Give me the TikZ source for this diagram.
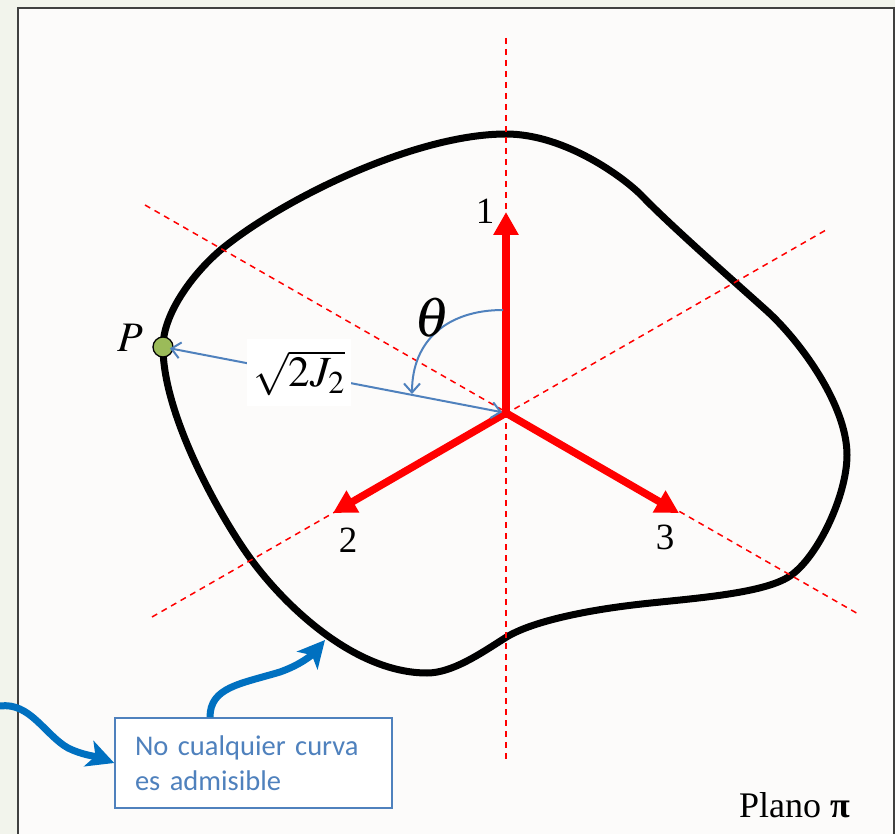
\documentclass[tikz,border=0pt]{standalone}
\usepackage{mathptmx}
\usepackage{fontspec}
\setmainfont{Liberation Serif}
\newfontfamily\boxfont{Carlito}
\usetikzlibrary{arrows.meta}
\definecolor{outerbg}{HTML}{F2F4EC}
\definecolor{innerbg}{HTML}{FCFBFA}
\definecolor{framec}{HTML}{404040}
\definecolor{thinblue}{HTML}{4F81BD}
\definecolor{thickblue}{HTML}{0070C0}
\definecolor{pgreen}{HTML}{9BBB59}
\begin{document}
\begin{tikzpicture}[x=1pt,y=-1pt,
  axisdash/.style={red, line width=1.5pt, dash pattern=on 6pt off 5pt},
  axisarrow/.style={red, line width=7.5pt, -{Triangle[length=23pt,width=24pt]}},
  thinarrow/.style={thinblue, line width=2pt},
  barb/.tip={Straight Barb[length=9pt,width=16pt,line width=2pt]},
  thickarrow/.style={thickblue, line width=7pt, -{Stealth[length=27pt,width=27pt,inset=7pt]}},
  lbl/.style={font=\fontsize{37}{40}\selectfont, inner sep=0pt},
]
\fill[outerbg] (0,0) rectangle (895,834);
\useasboundingbox (0,0) rectangle (895,834);
\draw[framec, fill=innerbg, line width=1.5pt] (18,8) rectangle (894,850);

% closed curve
\draw[black, line width=7pt, line join=round]
  (506,134) .. controls (566,134) and (626,179) .. (643,197)
  .. controls (671,226) and (737,284) .. (767,311)
  .. controls (800,341) and (847,405) .. (847,455)
  .. controls (847,495) and (818,557) .. (790,576)
  .. controls (762,595) and (682,599) .. (633,605)
  .. controls (583,611) and (530,622) .. (505,638)
  .. controls (480,654) and (452,673) .. (427,673)
  .. controls (357,673) and (289,610) .. (253,562)
  .. controls (223,522) and (163,417) .. (163,347)
  .. controls (163,312) and (196,270) .. (223,248)
  .. controls (285,198) and (416,134) .. cycle;

% axes
\coordinate (O) at (506,413);
\coordinate (v1) at (506,38);  \coordinate (v2) at (506,762);
\coordinate (d1) at (145,205); \coordinate (d2) at (860,615);
\coordinate (e1) at (152,617); \coordinate (e2) at (826,230);
\draw[axisdash] (v1) -- (v2);
\draw[axisdash] (d1) -- (d2);
\draw[axisdash] (e1) -- (e2);

\coordinate (a1) at (506,212);
\coordinate (a2) at (333,513);
\coordinate (a3) at (679,513);
\draw[axisarrow] (O) -- (a1);
\draw[axisarrow] (O) -- (a2);
\draw[axisarrow] (O) -- (a3);
\node[lbl] (l1) at (485,211) {1};
\node[lbl] (l2) at (348,540) {2};
\node[lbl] (l3) at (665,537) {3};

% point P and radius
\node[circle, draw=black, line width=1.3pt, fill=pgreen, minimum size=20pt, inner sep=0pt] (P) at (163,347) {};
\node[inner sep=0pt, font=\fontsize{42}{46}\selectfont] (Plbl) at (130,338) {$P$};
\draw[thinarrow, {barb}-{barb}, shorten <=7pt, shorten >=4pt] (P.center) -- (O);
\node[fill=white, minimum width=104pt, minimum height=67pt, inner sep=0pt, font=\fontsize{43}{46}\selectfont] (rad) at (299,373) {$\sqrt{2J_{2}}$};

% theta
\coordinate (t0) at (503,310);
\coordinate (t1) at (412,394);
\draw[thinarrow, -{barb}] (t0) .. controls (448,310) and (412,340) .. (t1);
\node[inner sep=0pt, font=\fontsize{56}{60}\selectfont] (theta) at (432,318) {$\theta$};

% annotation
\node[draw=thinblue, line width=1.5pt, fill=white, minimum width=277pt, minimum height=90pt,
      text width=237pt, inner xsep=20pt, align=left, text=thinblue,
      font=\boxfont\fontsize{28.5}{35}\selectfont] (note) at (253.5,763)
  {No cualquier curva\\es admisible};
\coordinate (c1) at (325,640);
\coordinate (c0) at (0,706);
\draw[thickarrow] ([xshift=-43.5pt]note.north) .. controls +(0,-30) and (240,684) .. (280,672)
   .. controls (300,665) and (312,655) .. (c1);
\draw[thickarrow] (c0) .. controls (30,702) and (45,735) .. (68,748)
   .. controls (82,755) and (98,757) .. (note.west);

\node[anchor=base west, inner sep=0pt, font=\fontsize{36}{40}\selectfont] (plano) at (739,817) {Plano {\bfseries π}};
\end{tikzpicture}
\end{document}
